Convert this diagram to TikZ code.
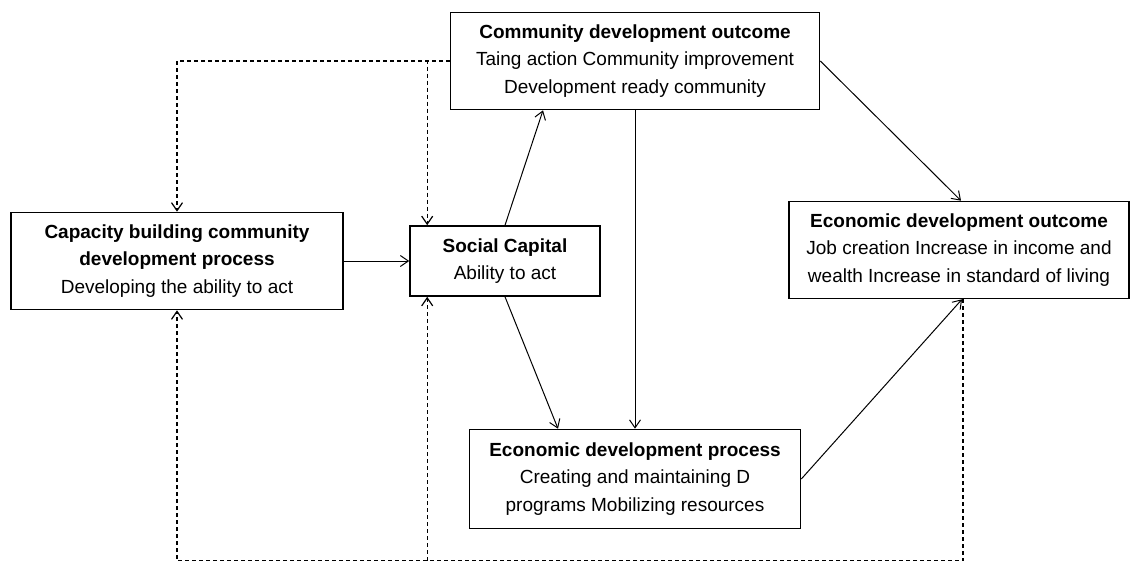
\documentclass[tikz,border=0pt]{standalone}
\usepackage{fontspec}
\setmainfont{Liberation Sans}
\usetikzlibrary{positioning}
\usetikzlibrary{arrows.meta}
\tikzstyle{stage} = [rectangle, draw=black, line width=1.6pt, align=center, inner sep=0pt, font=\fontsize{19}{27.5}\selectfont]
\tikzstyle{arrow} = [line width=1pt,->,>={Straight Barb[length=8pt,width=11pt]}]
\tikzstyle{feedback} = [line width=1.2pt, dash pattern=on 4pt off 3pt,->,>={Straight Barb[length=8pt,width=11pt]}]

\begin{document}
\begin{tikzpicture}[node distance=200pt]
        \useasboundingbox (0,0) rectangle (1131pt,-560pt);
        \node (capacity) [stage, minimum width=332pt, minimum height=97pt] at (177pt,-261pt) {\textbf{Capacity building community}\\\textbf{development process}\\Developing the ability to act};
        \node (social) [stage, right of=capacity, xshift=128pt, minimum width=190pt, minimum height=70pt] {\textbf{Social Capital}\\Ability to act};
        \node (commOut) [stage, above of=social, xshift=130pt, minimum width=369pt, minimum height=97pt] {\textbf{Community development outcome}\\Taing action Community improvement\\Development ready community};
        \node (econProc) [stage, below of=commOut, yshift=-218pt, minimum width=331pt, minimum height=99pt] {\textbf{Economic development process}\\Creating and maintaining D\\programs Mobilizing resources};
        \node (econOut) [stage, right of=social, xshift=254pt, yshift=11pt, minimum width=340pt, minimum height=97pt] {\textbf{Economic development outcome}\\Job creation Increase in income and\\wealth Increase in standard of living};
        % the loop runs along the lower edge
        \coordinate (loopBase) at ([xshift=4pt, yshift=-311pt]econOut.center);

        \draw [arrow] (capacity) -- (social);
        \draw [arrow] (social.north) -- ([xshift=-92pt]commOut.south);
        \draw [arrow] (social.south) -- ([xshift=-77pt]econProc.north);
        \draw [arrow] (commOut) -- (econProc);
        \draw [arrow] (commOut.east) -- ([xshift=2pt]econOut.north);
        \draw [arrow] (econProc.east) -- ([xshift=3pt]econOut.south);

        % dashed feedback from the outcomes
        \draw [feedback] (commOut.west) -| (capacity.north);
        \draw [feedback] (commOut.west) -| ([xshift=18pt]social.north west);
        \draw [feedback] ([xshift=4pt]econOut.south) -- (loopBase) -| ([xshift=18pt]social.south west);
        \draw [feedback] ([xshift=18pt]social.south west |- loopBase) -| (capacity.south);
    \end{tikzpicture}
\end{document}
